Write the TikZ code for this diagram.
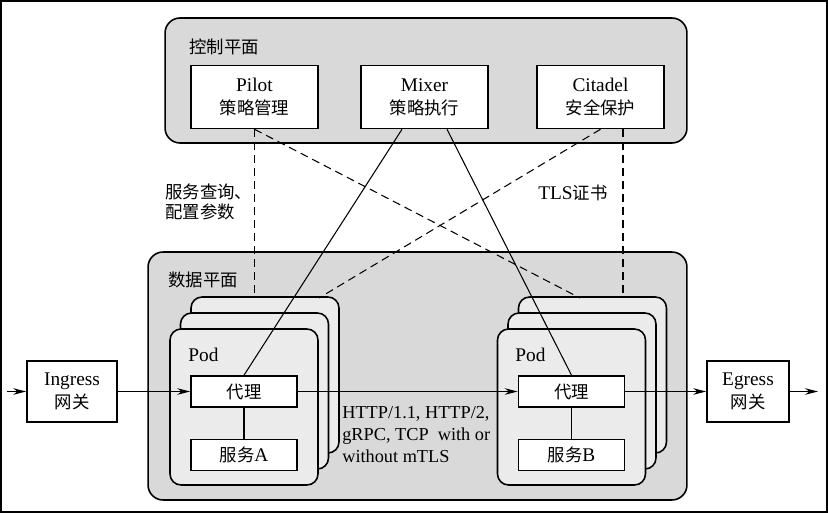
\documentclass[tikz,border=0pt]{standalone}
\usepackage{fontspec}
\setmainfont{Liberation Serif}
\newfontfamily\cjk{Noto Sans CJK SC}[Scale=0.9]
\usepackage{tikz}
\usetikzlibrary{positioning,arrows.meta}
\usepackage{xcolor}
\definecolor{planegray}{gray}{0.85}
\definecolor{cardgray}{gray}{0.92}
\newcommand{\zh}[1]{{\cjk #1}}

\begin{document}
\begin{tikzpicture}[
  x=0.02cm, y=-0.02cm,
  font=\fontsize{11}{13}\selectfont,
  plane/.style={draw, line width=0.9pt, rounded corners=0.3cm, fill=planegray},
  card/.style={draw, line width=0.9pt, rounded corners=0.22cm, fill=cardgray,
               minimum width=2.96cm, minimum height=3.12cm},
  comp/.style={draw, line width=0.9pt, fill=white, minimum width=2.54cm,
               minimum height=1.26cm, align=center},
  proxy/.style={draw, line width=0.9pt, fill=white, minimum width=2.12cm,
                minimum height=0.62cm},
  gate/.style={draw, line width=0.9pt, fill=white, minimum height=1.22cm,
               align=center},
  lbl/.style={inner sep=0pt, anchor=west, align=left},
  link/.style={line width=0.6pt},
  arr/.style={-{Stealth[length=0.26cm, width=0.13cm]}, line width=0.6pt},
  ctl/.style={dash pattern=on 0.16cm off 0.1cm, line width=0.6pt},
  node distance=0.62cm
]
\useasboundingbox (0,0) rectangle (828,513);
\draw[line width=0.9pt] (1,1) rectangle (827,512);

\node[plane, minimum width=10.44cm, minimum height=2.5cm] (ctrl) at (426,80.5) {};
\node[plane, minimum width=10.78cm, minimum height=4.96cm] (data) at (417.5,376) {};
\node[lbl] (ctrltitle) at (189,47) {\zh{控制平面}};
\node[lbl] (datatitle) at (168,280) {\zh{数据平面}};

\node[comp] (pilot) at (254.5,97) {Pilot\\\zh{策略管理}};
\node[comp] (mixer) at (424.5,97) {Mixer\\\zh{策略执行}};
\node[comp] (citadel) at (600.5,97) {Citadel\\\zh{安全保护}};

\node[card] (podA3) at (265,375) {};
\node[card] (podA2) at (254.5,391) {};
\node[card] (podA1) at (244,407) {};
\node[card] (podB3) at (592.5,375) {};
\node[card] (podB2) at (582,391) {};
\node[card] (podB1) at (571.5,407) {};
\node[lbl] (podAname) at (188,355) {Pod};
\node[lbl] (podBname) at (515,355) {Pod};

\node[proxy] (proxyA) at (244,391.5) {\zh{代理}};
\node[proxy, below=of proxyA] (svcA) {\zh{服务}A};
\node[proxy] (proxyB) at (571.5,391.5) {\zh{代理}};
\node[proxy, below=of proxyB] (svcB) {\zh{服务}B};

\node[gate, minimum width=1.8cm] (ingress) at (72,391.5) {Ingress\\\zh{网关}};
\node[gate, minimum width=1.64cm] (egress) at (748,391.5) {Egress\\\zh{网关}};
\coordinate (in) at (7,391.5);
\coordinate (out) at (818,391.5);

\node[lbl, font=\fontsize{11}{11}\selectfont] (querylbl) at (165,202)
  {\zh{服务查询、}\\\zh{配置参数}};
\node[lbl] (tlslbl) at (538,193) {TLS\zh{证书}};
\node[lbl, font=\fontsize{10.4}{12.5}\selectfont] (protolbl) at (342,435)
  {HTTP/1.1, HTTP/2,\\gRPC, TCP\ \ with or\\without mTLS};

\coordinate (podAtap) at (319,298);
\coordinate (podBtap) at (580,298);
\coordinate (cittap) at ([xshift=0.45cm]citadel.south);
\draw[ctl] (pilot.south) -- (pilot.south |- podA3.north);
\draw[ctl] (pilot.south) -- (podBtap);
\draw[ctl] (citadel.south) -- (podAtap);
\draw[ctl] (cittap) -- (cittap |- podB3.north);
\draw[link] ([xshift=-0.45cm]mixer.south) -- (proxyA.north);
\draw[link] ([xshift=0.45cm]mixer.south) -- (proxyB.north);

\draw[link] (proxyA) -- (svcA);
\draw[link] (proxyB) -- (svcB);
\draw[arr] (in) -- (ingress);
\draw[arr] (ingress) -- (proxyA);
\draw[arr] (proxyA) -- (proxyB);
\draw[arr] (proxyB) -- (egress);
\draw[arr] (egress) -- (out);
\end{tikzpicture}
\end{document}
